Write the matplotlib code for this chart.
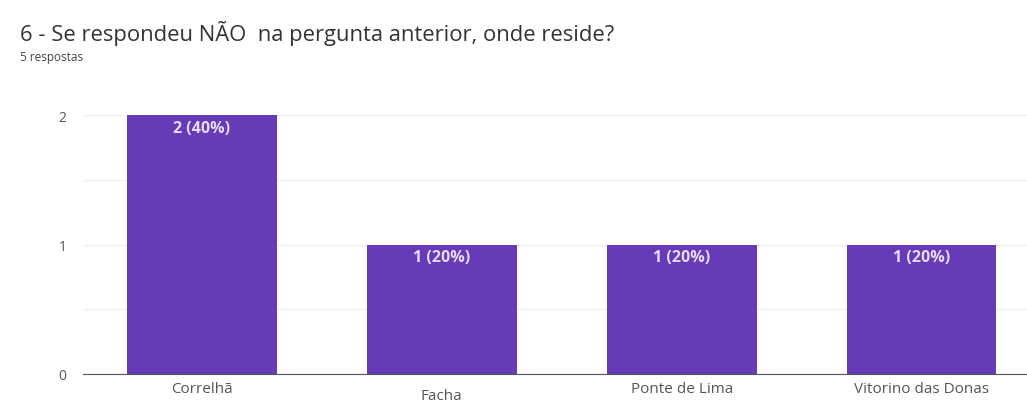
import matplotlib.pyplot as plt
from matplotlib.transforms import ScaledTranslation

plt.rcParams['font.family'] = ['Open Sans', 'DejaVu Sans']

categories = ['Correlhã', 'Facha', 'Ponte de Lima', 'Vitorino das Donas']
counts = [2, 1, 1, 1]
total = 5
title = '6 - Se respondeu NÃO  na pergunta anterior, onde reside?'
subtitle = '5 respostas'

bar_color = '#673ab7'

fig = plt.figure(figsize=(10.27, 4.06), dpi=100)
ax = fig.add_axes([83 / 1027, 31 / 406, 944 / 1027, 259 / 406])

x = list(range(len(categories)))
bars = ax.bar(x, counts, width=0.625, color=bar_color, zorder=3)

for rect, c in zip(bars, counts):
    ax.text(rect.get_x() + rect.get_width() / 2, c - 0.035,
            f'{c} ({c / total:.0%})', ha='center', va='top',
            color='#e4dcf3', fontsize=11.5, fontweight='bold', zorder=4)

ax.set_xlim(-0.496, 3.44)
ax.set_ylim(0, 2)
ax.set_yticks([0, 1, 2])
ax.set_yticks([0.5, 1.5], minor=True)
ax.grid(axis='y', which='both', color='#f0f0f0', linewidth=1, zorder=0)
ax.set_xticks(x)
ax.set_xticklabels(categories)
ax.tick_params(axis='both', length=0, colors='#555555', labelsize=10)
ax.tick_params(axis='x', labelsize=11, pad=5)
ax.tick_params(axis='y', pad=12)
ax.tick_params(which='minor', length=0)

# the second label sits a little lower
lbl = ax.get_xticklabels()[1]
lbl.set_transform(lbl.get_transform() + ScaledTranslation(0, -5 / 72, fig.dpi_scale_trans))

for side in ['top', 'right', 'left']:
    ax.spines[side].set_visible(False)
ax.spines['bottom'].set_color('#555555')
ax.spines['bottom'].set_zorder(5)

fig.text(20 / 1027, 1 - 33 / 406, title, fontsize=15.8, color='#333333', va='center')
fig.text(20 / 1027, 1 - 58 / 406, subtitle, fontsize=8.5, color='#444444', va='center')

fig.savefig('out.png', dpi=100, facecolor='white')
